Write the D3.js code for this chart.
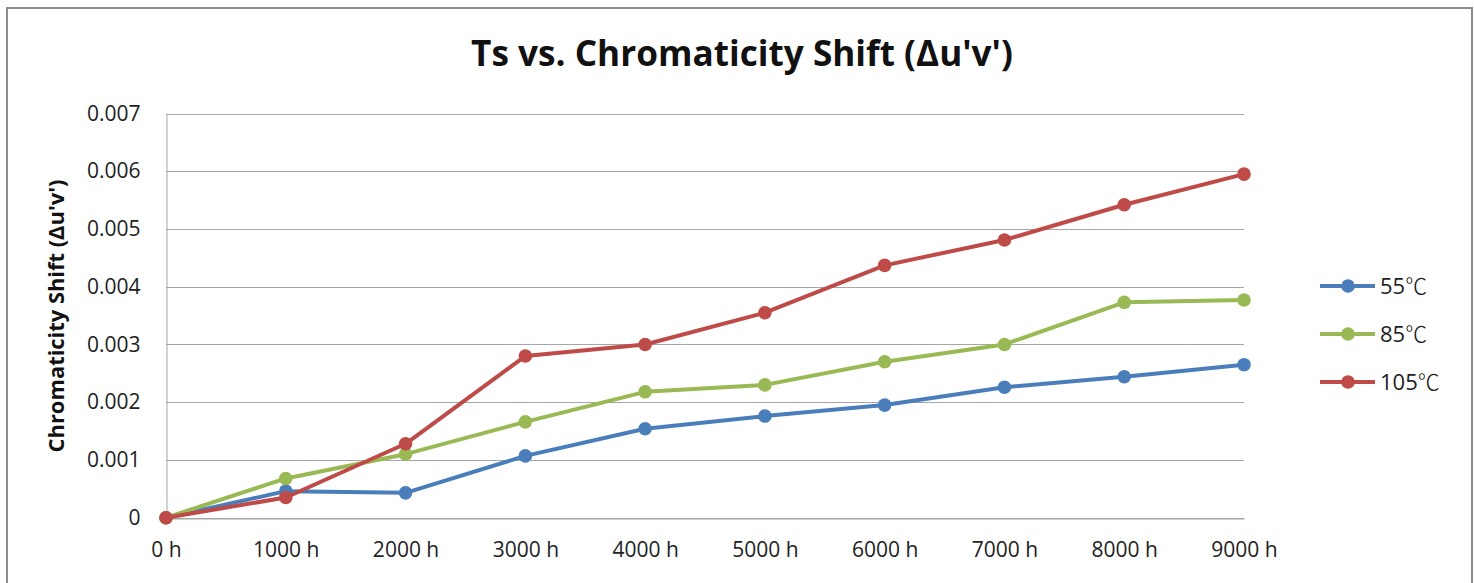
<!DOCTYPE html>
<html><head><meta charset="utf-8">
<script src="https://cdn.jsdelivr.net/npm/d3@7"></script>
<style>body{margin:0;background:#fff;} svg{display:block;}</style>
</head><body>
<svg id="c" width="1474" height="583"></svg>
<script>
const categories = ["0 h","1000 h","2000 h","3000 h","4000 h","5000 h","6000 h","7000 h","8000 h","9000 h"];
const seriesNames = ["55℃","85℃","105℃"];
const s55  = [0,0.00046,0.00043,0.00107,0.00154,0.00176,0.00195,0.00226,0.00244,0.00265];
const s85  = [0,0.00068,0.00110,0.00166,0.00218,0.00230,0.00270,0.00300,0.00373,0.00377];
const s105 = [0,0.00035,0.00128,0.00280,0.00300,0.00355,0.00437,0.00481,0.00542,0.00595];
const yTicks = [0,0.001,0.002,0.003,0.004,0.005,0.006,0.007];
const yTickLabels = ["0","0.001","0.002","0.003","0.004","0.005","0.006","0.007"];
const colors = ["#4a7ebb","#98b954","#be4b48"];
const title = "Ts vs. Chromaticity Shift (Δu'v')";
const yTitle = "Chromaticity Shift (Δu'v')";

const svg = d3.select("#c");
const font = "'Open Sans', 'DejaVu Sans', sans-serif";
const cjk = "'Noto Sans CJK SC', 'Open Sans', sans-serif";

// outer border
svg.append("rect").attr("x",7).attr("y",8).attr("width",1465).attr("height",600)
  .attr("fill","#fff").attr("stroke","#8c8c8c").attr("stroke-width",2);

const x = d3.scalePoint().domain(categories).range([166,1244]);
const y = d3.scaleLinear().domain([0,0.007]).range([517.7,113.5]);

// gridlines
svg.append("g").selectAll("line").data(yTicks).join("line")
  .attr("x1",166).attr("x2",1244)
  .attr("y1",d=>Math.round(y(d))+0.5).attr("y2",d=>Math.round(y(d))+0.5)
  .attr("stroke","#a6a6a6").attr("stroke-width",1);

// y axis
const yAxis = d3.axisLeft(y).tickValues(yTicks).tickFormat((d,i)=>yTickLabels[i]).tickSize(0).tickPadding(26);
const gy = svg.append("g").attr("transform","translate(166.5,0)").call(yAxis);
gy.select(".domain").attr("stroke","#a6a6a6");
gy.selectAll("text").attr("font-family",font).attr("font-size",21).attr("fill","#222");

// x axis
const xAxis = d3.axisBottom(x).tickSize(0).tickPadding(24);
const gx = svg.append("g").attr("transform",`translate(0,${Math.round(y(0))+0.5})`).call(xAxis);
gx.select(".domain").attr("stroke","#a6a6a6");
gx.selectAll("text").attr("font-family",font).attr("font-size",21).attr("fill","#222");

// title
const t = svg.append("text").attr("x",742).attr("y",66).attr("text-anchor","middle")
  .attr("font-family",font).attr("font-weight","bold").attr("font-size",27).attr("fill","#111").text(title);
const tw = t.node().getComputedTextLength();
t.attr("font-size", 27*542/tw);

// y title
const yt = svg.append("text").attr("transform","translate(64,316) rotate(-90)").attr("text-anchor","middle")
  .attr("font-family",font).attr("font-weight","bold").attr("font-size",17).attr("fill","#111").text(yTitle);
const yw = yt.node().getComputedTextLength();
yt.attr("font-size", 17*273/yw);

// series
const allSeries = [s55,s85,s105];
const line = d3.line().x((d,i)=>x(categories[i])).y(d=>y(d));
allSeries.forEach((s,k)=>{
  svg.append("path").datum(s).attr("d",line).attr("fill","none")
    .attr("stroke",colors[k]).attr("stroke-width",4).attr("stroke-linejoin","round");
  svg.append("g").selectAll("circle").data(s).join("circle")
    .attr("cx",(d,i)=>x(categories[i])).attr("cy",d=>y(d)).attr("r",6.8).attr("fill",colors[k]);
});

// legend
const lg = svg.append("g");
seriesNames.forEach((n,k)=>{
  const ly = 286 + k*48;
  lg.append("line").attr("x1",1320).attr("x2",1375).attr("y1",ly).attr("y2",ly)
    .attr("stroke",colors[k]).attr("stroke-width",4);
  lg.append("circle").attr("cx",1348).attr("cy",ly).attr("r",6.8).attr("fill",colors[k]);
  const txt = lg.append("text").attr("x",1380).attr("y",ly).attr("dy","0.36em")
    .attr("font-family",font).attr("font-size",22).attr("fill","#222");
  txt.append("tspan").text(n.slice(0,-1));
  txt.append("tspan").attr("font-family",cjk).attr("font-weight",300).text(n.slice(-1));
});
</script>
</body></html>
